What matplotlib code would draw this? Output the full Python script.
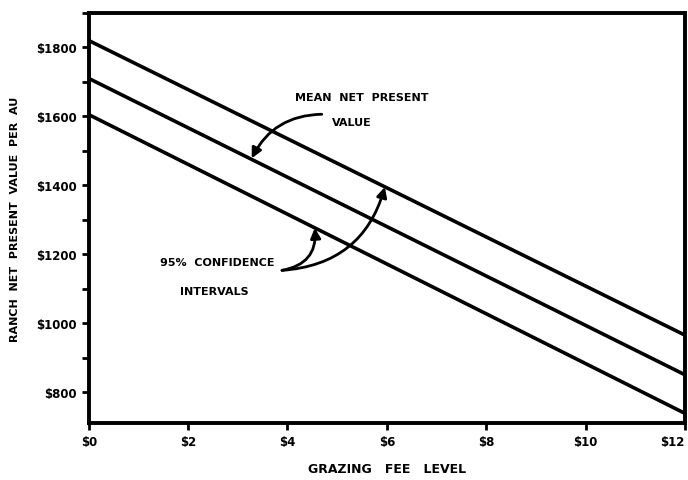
import matplotlib
matplotlib.use('Agg')
import matplotlib.pyplot as plt
from matplotlib.ticker import MultipleLocator

fee = [0, 12]
upper_ci = [1820, 965]
mean_npv = [1710, 850]
lower_ci = [1605, 738]

x_ticks = [0, 2, 4, 6, 8, 10, 12]
x_labels = ['$0', '$2', '$4', '$6', '$8', '$10', '$12']
y_ticks = [800, 1000, 1200, 1400, 1600, 1800]
y_labels = ['$800', '$1000', '$1200', '$1400', '$1600', '$1800']

plt.rcParams['font.family'] = ['DejaVu Sans']

fig = plt.figure(figsize=(6.88, 4.81), dpi=100)
ax = fig.add_axes([0.129, 0.1185, 0.8665, 0.8525])

for vals in (upper_ci, mean_npv, lower_ci):
    ax.plot(fee, vals, color='black', linewidth=2.6, solid_capstyle='butt')

ax.set_xlim(0, 12)
ax.set_ylim(710, 1900)
ax.set_xticks(x_ticks)
ax.set_xticklabels(x_labels, fontsize=8.5, fontweight='bold')
ax.get_xticklabels()[-1].set_horizontalalignment('right')
ax.set_yticks(y_ticks)
ax.set_yticklabels(y_labels, fontsize=8.5, fontweight='bold')
ax.yaxis.set_minor_locator(MultipleLocator(100))
ax.tick_params(axis='both', which='major', direction='out', length=5, width=2)
ax.tick_params(axis='y', which='minor', direction='out', length=5, width=2)
for s in ax.spines.values():
    s.set_linewidth(2.8)

ax.set_xlabel('GRAZING   FEE   LEVEL', fontsize=9, fontweight='bold', labelpad=10)
ax.set_ylabel('RANCH  NET  PRESENT  VALUE  PER  AU', fontsize=8, fontweight='bold', labelpad=12)

ax.text(4.15, 1656, 'MEAN  NET  PRESENT', fontsize=8, fontweight='bold', va='center', ha='left')
ax.text(4.89, 1584, 'VALUE', fontsize=8, fontweight='bold', va='center', ha='left')
ax.text(1.43, 1178, '95%  CONFIDENCE', fontsize=8, fontweight='bold', va='center', ha='left')
ax.text(1.83, 1092, 'INTERVALS', fontsize=8, fontweight='bold', va='center', ha='left')

arrow = dict(arrowstyle='-|>,head_length=0.6,head_width=0.3', color='black', lw=2,
             shrinkA=0, shrinkB=0)
ax.annotate('', xy=(3.28, 1478), xytext=(4.69, 1606),
            arrowprops=dict(arrow, connectionstyle='arc3,rad=0.3'))
ax.annotate('', xy=(5.96, 1395), xytext=(3.89, 1153),
            arrowprops=dict(arrow, connectionstyle='arc3,rad=0.35'))
ax.annotate('', xy=(4.55, 1276), xytext=(3.89, 1153),
            arrowprops=dict(arrow, connectionstyle='arc3,rad=0.45'))

fig.savefig('out.png', dpi=100)
